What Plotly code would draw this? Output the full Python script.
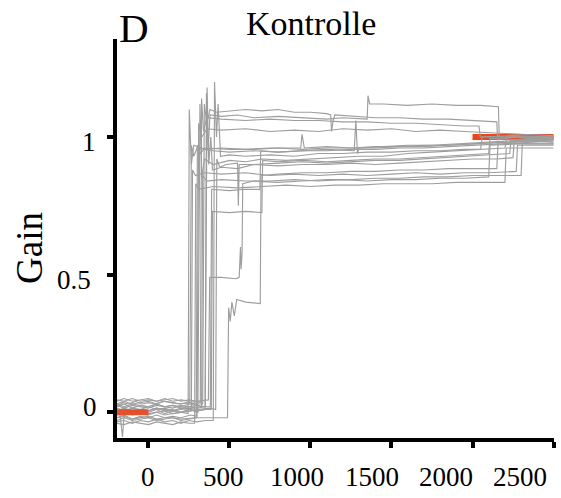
import plotly.graph_objects as go

# ---- Gain traces (time in ms, gain) --------------------------------------
trace_01 = [(-195, 0.02), (-160, 0.035), (-120, 0.03), (-80, 0.04), (-40, 0.03), (0, 0.035), (40, 0.03), (90, 0.04),
            (140, 0.035), (190, 0.03), (240, 0.035), (300, 0.03), (335, 0.03), (345, 1.12), (360, 1.05), (380, 1.1),
            (420, 1.09), (500, 1.095), (600, 1.1), (700, 1.095), (800, 1.1), (900, 1.09), (1000, 1.09), (1100, 1.085),
            (1125, 1.08), (1130, 1.02), (1140, 1.06), (1150, 1.08), (1250, 1.075), (1400, 1.07), (1550, 1.07),
            (1700, 1.065), (1850, 1.065), (2000, 1.06), (2100, 1.055), (2150, 1.055), (2155, 0.99), (2250, 1.0),
            (2350, 0.995), (2500, 1.0)]
trace_02 = [(-195, 0.0), (-150, 0.01), (-100, -0.005), (-50, 0.01), (0, 0.005), (50, 0.015), (100, 0.005), (150, 0.01),
            (200, 0.0), (250, 0.01), (300, 0.005), (350, 0.01), (358, 1.16), (368, 0.95), (380, 1.08), (450, 1.075),
            (550, 1.08), (650, 1.07), (800, 1.075), (950, 1.07), (1100, 1.065), (1200, 1.07), (1300, 1.065),
            (1350, 1.065), (1355, 1.15), (1365, 1.12), (1450, 1.12), (1600, 1.115), (1750, 1.12), (1900, 1.115),
            (2050, 1.115), (2160, 1.11), (2165, 1.0), (2300, 1.0), (2500, 0.995)]
trace_03 = [(-195, -0.02), (-150, -0.01), (-100, -0.025), (-50, -0.015), (0, -0.02), (50, -0.01), (100, -0.02),
            (150, -0.015), (200, -0.02), (260, -0.01), (300, -0.015), (310, 1.05), (330, 1.0), (360, 1.03),
            (450, 1.025), (600, 1.03), (750, 1.02), (900, 1.025), (1050, 1.02), (1200, 1.03), (1350, 1.025),
            (1500, 1.03), (1650, 1.02), (1800, 1.025), (1950, 1.02), (2100, 1.015), (2300, 1.01), (2500, 1.005)]
trace_04 = [(-195, 0.045), (-150, 0.04), (-100, 0.05), (-50, 0.04), (0, 0.045), (50, 0.04), (100, 0.05), (150, 0.04),
            (200, 0.045), (255, 0.04), (265, 0.97), (280, 0.93), (300, 0.96), (400, 0.95), (500, 0.945), (650, 0.95),
            (800, 0.945), (950, 0.95), (1100, 0.955), (1270, 0.95), (1280, 1.06), (1290, 0.94), (1300, 0.96),
            (1450, 0.965), (1600, 0.97), (1750, 0.97), (1900, 0.975), (2050, 0.98), (2200, 0.985), (2350, 0.99),
            (2500, 0.995)]
trace_05 = [(-195, 0.01), (-150, -0.01), (-100, 0.005), (-50, -0.005), (0, 0.0), (50, 0.01), (100, -0.005),
            (150, 0.005), (200, 0.0), (250, 0.01), (305, 0.0), (318, 1.12), (330, 0.85), (345, 0.92), (400, 0.9),
            (500, 0.915), (600, 0.91), (700, 0.92), (850, 0.915), (1000, 0.92), (1150, 0.925), (1300, 0.93),
            (1450, 0.93), (1600, 0.94), (1750, 0.945), (1900, 0.95), (2050, 0.955), (2200, 0.96), (2215, 1.0),
            (2350, 0.995), (2500, 0.99)]
trace_06 = [(-195, 0.03), (-150, 0.02), (-100, 0.03), (-50, 0.025), (0, 0.02), (50, 0.03), (100, 0.02), (150, 0.025),
            (200, 0.02), (250, 0.03), (300, 0.025), (350, 0.02), (362, 1.18), (372, 0.9), (385, 1.0), (395, 0.88),
            (450, 0.89), (550, 0.885), (650, 0.9), (800, 0.895), (950, 0.9), (1100, 0.9), (1250, 0.905), (1400, 0.9),
            (1550, 0.905), (1700, 0.91), (1850, 0.915), (2000, 0.92), (2150, 0.92), (2250, 0.925), (2258, 0.99),
            (2400, 0.985), (2500, 0.98)]
trace_07 = [(-195, -0.035), (-150, -0.03), (-100, -0.04), (-50, -0.03), (0, -0.035), (50, -0.025), (100, -0.035),
            (150, -0.03), (200, -0.04), (250, -0.03), (300, -0.035), (350, -0.03), (400, -0.03), (408, 1.2),
            (420, 1.0), (430, 1.12), (445, 0.93), (500, 0.935), (600, 0.93), (750, 0.935), (900, 0.93), (1050, 0.94),
            (1200, 0.94), (1350, 0.945), (1500, 0.945), (1650, 0.95), (1800, 0.95), (1950, 0.955), (2050, 0.955),
            (2060, 1.0), (2250, 1.0), (2500, 1.0)]
trace_08 = [(-195, 0.0), (-175, -0.01), (-160, -0.09), (-148, 0.01), (-100, 0.0), (-50, 0.005), (0, -0.005), (50, 0.0),
            (100, 0.005), (150, -0.005), (200, 0.0), (265, 0.005), (272, 0.88), (290, 0.86), (350, 0.87),
            (450, 0.865), (600, 0.87), (750, 0.86), (900, 0.865), (1050, 0.86), (1200, 0.865), (1350, 0.86),
            (1500, 0.865), (1650, 0.87), (1800, 0.865), (1950, 0.87), (2100, 0.87), (2270, 0.875), (2278, 0.97),
            (2400, 0.97), (2500, 0.97)]
trace_09 = [(-195, 0.02), (-150, 0.03), (-100, 0.015), (-50, 0.025), (0, 0.02), (50, 0.03), (100, 0.02), (150, 0.025),
            (200, 0.015), (250, 0.02), (300, 0.025), (328, 0.02), (335, 0.86), (360, 0.84), (450, 0.845), (600, 0.84),
            (750, 0.84), (900, 0.845), (1050, 0.84), (1200, 0.845), (1350, 0.84), (1500, 0.845), (1650, 0.845),
            (1800, 0.85), (1950, 0.85), (2100, 0.855), (2108, 0.97), (2300, 0.975), (2500, 0.975)]
trace_10 = [(-195, -0.04), (-150, -0.045), (-100, -0.035), (-50, -0.04), (0, -0.045), (50, -0.035), (100, -0.04),
            (150, -0.045), (200, -0.035), (250, -0.04), (285, -0.04), (292, 0.83), (310, 0.81), (400, 0.82),
            (550, 0.815), (700, 0.82), (850, 0.825), (1000, 0.82), (1150, 0.825), (1300, 0.825), (1450, 0.83),
            (1600, 0.83), (1750, 0.83), (1900, 0.835), (2050, 0.835), (2200, 0.835), (2208, 0.96), (2350, 0.96),
            (2500, 0.96)]
trace_11 = [(-195, -0.02), (-150, -0.015), (-100, -0.025), (-50, -0.02), (0, -0.015), (50, -0.025), (100, -0.02),
            (150, -0.02), (200, -0.025), (300, -0.02), (400, -0.02), (488, -0.02), (495, 0.38), (505, 0.33),
            (515, 0.4), (530, 0.35), (545, 0.41), (600, 0.4), (690, 0.395), (695, 0.86), (800, 0.865), (950, 0.87),
            (1100, 0.87), (1250, 0.875), (1400, 0.875), (1550, 0.88), (1700, 0.88), (1850, 0.885), (2000, 0.885),
            (2150, 0.885), (2158, 0.98), (2350, 0.975), (2500, 0.975)]
trace_12 = [(-195, 0.04), (-150, 0.05), (-100, 0.04), (-50, 0.045), (0, 0.05), (50, 0.04), (100, 0.045), (150, 0.05),
            (200, 0.04), (250, 0.045), (300, 0.04), (370, 0.045), (378, 0.49), (450, 0.49), (540, 0.485), (560, 0.49),
            (568, 0.6), (572, 0.52), (578, 0.58), (582, 0.83), (650, 0.84), (800, 0.835), (950, 0.84), (1100, 0.845),
            (1250, 0.845), (1400, 0.85), (1550, 0.85), (1700, 0.855), (1850, 0.855), (2000, 0.86), (2300, 0.86),
            (2308, 0.99), (2500, 0.99)]
trace_13 = [(-195, 0.015), (-150, 0.005), (-100, 0.015), (-50, 0.01), (0, 0.005), (50, 0.015), (100, 0.01),
            (150, 0.005), (200, 0.015), (250, 0.01), (300, 0.005), (350, 0.01), (388, 0.01), (395, 0.73), (500, 0.725),
            (600, 0.73), (700, 0.725), (705, 0.915), (800, 0.91), (950, 0.915), (1100, 0.91), (1250, 0.915),
            (1400, 0.92), (1550, 0.92), (1700, 0.925), (1850, 0.93), (2000, 0.935), (2100, 0.94), (2108, 0.995),
            (2300, 0.99), (2500, 0.995)]
trace_14 = [(-195, -0.01), (-150, 0.0), (-100, -0.01), (-50, -0.005), (0, -0.01), (50, 0.0), (100, -0.01),
            (150, -0.005), (200, 0.0), (245, -0.005), (252, 1.1), (265, 0.9), (280, 0.97), (350, 0.955), (450, 0.96),
            (600, 0.955), (750, 0.96), (900, 0.96), (940, 0.96), (948, 1.01), (955, 0.99), (962, 0.96), (1100, 0.965),
            (1250, 0.96), (1400, 0.965), (1550, 0.965), (1700, 0.97), (1850, 0.97), (2000, 0.975), (2150, 0.98),
            (2300, 0.985), (2500, 0.99)]
trace_15 = [(-195, 0.03), (-150, 0.04), (-100, 0.03), (-50, 0.035), (0, 0.04), (50, 0.03), (100, 0.04), (150, 0.035),
            (200, 0.03), (250, 0.035), (300, 0.04), (320, 0.035), (328, 1.14), (340, 1.02), (360, 1.07), (450, 1.065),
            (600, 1.06), (750, 1.065), (900, 1.06), (1050, 1.06), (1200, 1.055), (1350, 1.055), (1500, 1.05),
            (1650, 1.05), (1800, 1.045), (1950, 1.04), (2040, 1.04), (2048, 1.0), (2250, 1.005), (2500, 1.0)]
trace_16 = [(-195, 0.005), (-150, 0.015), (-100, 0.005), (-50, 0.01), (0, 0.02), (50, 0.01), (100, 0.015),
            (150, 0.005), (200, 0.01), (250, 0.015), (300, 0.01), (380, 0.015), (415, 0.01), (422, 0.92), (440, 0.89),
            (480, 0.9), (550, 0.905), (555, 0.75), (560, 0.9), (650, 0.9), (800, 0.905), (950, 0.91), (1100, 0.905),
            (1250, 0.91), (1400, 0.915), (1550, 0.915), (1700, 0.92), (1850, 0.925), (2000, 0.93), (2150, 0.935),
            (2230, 0.94), (2238, 0.99), (2400, 0.985), (2500, 0.99)]
trace_17 = [(-195, 0.025), (-150, 0.015), (-100, 0.025), (-50, 0.02), (0, 0.015), (50, 0.025), (100, 0.02),
            (150, 0.015), (200, 0.025), (250, 0.02), (300, 0.015), (350, 0.02), (382, 0.02), (390, 0.81), (500, 0.805),
            (600, 0.81), (688, 0.81), (693, 0.95), (800, 0.945), (950, 0.95), (1100, 0.95), (1250, 0.955),
            (1400, 0.955), (1550, 0.96), (1700, 0.96), (1850, 0.965), (2000, 0.97), (2150, 0.975), (2300, 0.98),
            (2500, 0.985)]
trace_18 = [(-195, -0.03), (-150, -0.02), (-100, -0.03), (-50, -0.025), (0, -0.02), (50, -0.03), (100, -0.025),
            (150, -0.02), (200, -0.03), (250, -0.025), (295, -0.02), (302, 0.97), (320, 0.94), (350, 0.96),
            (500, 0.955), (650, 0.955), (800, 0.96), (950, 0.955), (1100, 0.96), (1250, 0.96), (1400, 0.96),
            (1550, 0.965), (1700, 0.965), (1850, 0.97), (2000, 0.975), (2150, 0.98), (2300, 0.985), (2500, 0.99)]

gain_traces = [trace_01, trace_02, trace_03, trace_04, trace_05, trace_06, trace_07, trace_08, trace_09,
               trace_10, trace_11, trace_12, trace_13, trace_14, trace_15, trace_16, trace_17, trace_18]

# Reference gain segments (baseline and adapted level)
ref_pre_t = [-195, 0]
ref_pre_g = [0.0, 0.0]
ref_post_t = [2000, 2500]
ref_post_g = [1.0, 1.0]

x_ticks = [0, 500, 1000, 1500, 2000, 2500]
x_tick_text = ["0", "500", "1000", "1500", "2000", "2500"]
# label centres along the bottom edge (pixels)
x_label_px = [148, 223, 297, 372, 446, 520]
y_ticks = [0, 0.5, 1]
y_tick_text = ["0", "0.5", "1"]
# label anchor points left of the axis (right edge px, centre px)
y_label_px = [(99, 406.5), (93, 279.5), (98, 141.5)]

title_text = "Kontrolle"
panel_letter = "D"
y_label = "Gain"

# ---- figure ---------------------------------------------------------------
W, H = 561, 498
PL, PR, PT, PB = 117, 554, 39, 438
FONT = "Liberation Serif"
GRAY = "#9e9e9e"
RED = "#e8461f"


def paper(px, py):
    return (px - PL) / (PR - PL), (PB - py) / (PB - PT)


fig = go.Figure()

# adapted-level reference sits beneath the traces
fig.add_trace(go.Scatter(x=ref_post_t, y=ref_post_g, mode="lines",
                         line=dict(color=RED, width=6), hoverinfo="skip"))

for tr in gain_traces:
    t = [p[0] for p in tr]
    g = [p[1] for p in tr]
    fig.add_trace(go.Scatter(x=t, y=g, mode="lines",
                             line=dict(color=GRAY, width=1.15)))

# baseline reference drawn over the traces
fig.add_trace(go.Scatter(x=ref_pre_t, y=ref_pre_g, mode="lines",
                         line=dict(color=RED, width=6), opacity=0.9, hoverinfo="skip"))

axis_common = dict(showline=True, linecolor="black", linewidth=3.5, ticks="outside",
                   ticklen=6, tickwidth=3.5, tickcolor="black", showgrid=False,
                   zeroline=False, showticklabels=False)

fig.update_xaxes(range=[-194, 2503], tickvals=x_ticks, **axis_common)
fig.update_yaxes(range=[-0.0935, 1.356], tickvals=y_ticks, **axis_common)

ann = []
x, y = paper(134, 28)
ann.append(dict(text=panel_letter, x=x, y=y, xanchor="center", yanchor="middle",
                font=dict(family=FONT, size=41, color="black")))
x, y = paper(311, 24)
ann.append(dict(text=title_text, x=x, y=y, xanchor="center", yanchor="middle",
                font=dict(family=FONT, size=34, color="black")))
x, y = paper(29, 248)
ann.append(dict(text=y_label, x=x, y=y, xanchor="center", yanchor="middle", textangle=-90,
                font=dict(family=FONT, size=37, color="black")))
for lbl, px in zip(x_tick_text, x_label_px):
    x, y = paper(px, 477)
    ann.append(dict(text=lbl, x=x, y=y, xanchor="center", yanchor="middle",
                    font=dict(family=FONT, size=27, color="black")))
for lbl, (px, py) in zip(y_tick_text, y_label_px):
    x, y = paper(px, py)
    ann.append(dict(text=lbl, x=x, y=y, xanchor="right", yanchor="middle",
                    font=dict(family=FONT, size=27, color="black")))
for a in ann:
    a.update(xref="paper", yref="paper", showarrow=False)

fig.update_layout(width=W, height=H, margin=dict(l=PL, r=W - PR, t=PT, b=H - PB),
                  paper_bgcolor="white", plot_bgcolor="white", showlegend=False,
                  annotations=ann)

fig.write_html("out.html")
